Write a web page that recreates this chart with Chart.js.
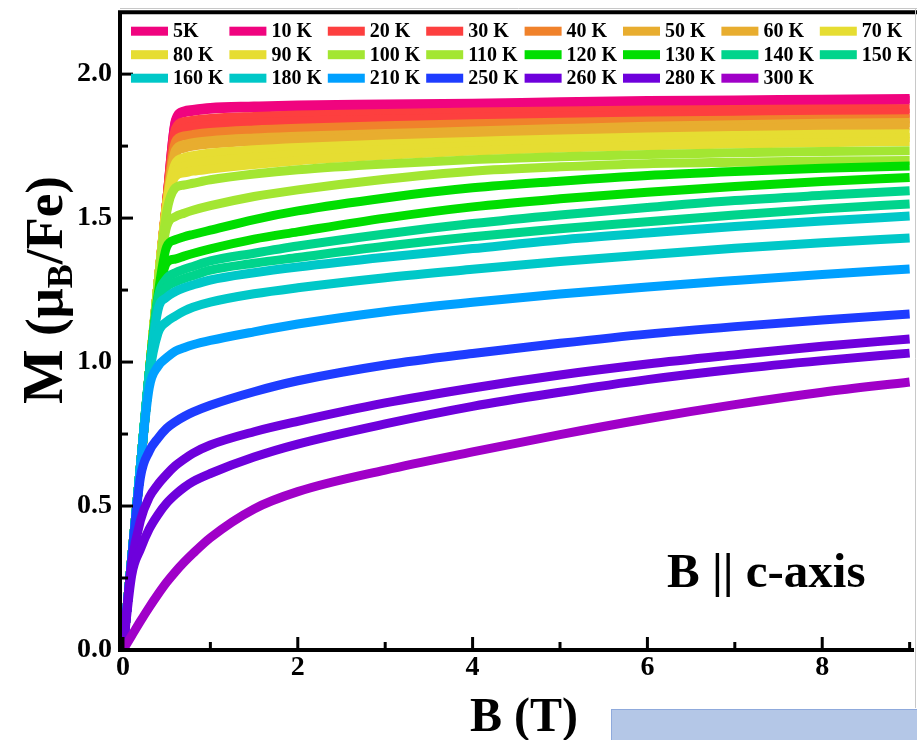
<!DOCTYPE html>
<html>
<head>
<meta charset="utf-8">
<script src="https://cdn.jsdelivr.net/npm/chart.js@4.4.1/dist/chart.umd.min.js"></script>
<style>
  html, body { margin: 0; padding: 0; background: #fff; }
  #wrap { position: relative; width: 917px; height: 740px; overflow: hidden; }
  #note { position: absolute; left: 611px; top: 709px; width: 310px; height: 40px;
          background: #b4c7e7; border: 1px solid #8faadc; box-sizing: border-box; }
</style>
</head>
<body>
<div id="wrap">
  <canvas id="mh" width="917" height="740"></canvas>
  <div id="note"></div>
</div>
<script>
// Applied field B (T) at which every isotherm is sampled
const fieldTesla = [0, 0.1, 0.2, 0.3, 0.4, 0.5, 0.6, 0.7, 0.8, 1, 1.5, 2, 3, 4, 5, 6, 7, 8, 9];

const temperatureLabels = ['5K', '10 K', '20 K', '30 K', '40 K', '50 K', '60 K', '70 K',
                           '80 K', '90 K', '100 K', '110 K', '120 K', '130 K', '140 K', '150 K',
                           '160 K', '180 K', '210 K', '250 K', '260 K', '280 K', '300 K'];

// Magnetization M (muB/Fe) for each isotherm
const m5K   = [0, 0.32, 0.64, 0.96, 1.27, 1.56, 1.84, 1.872, 1.877, 1.884, 1.889, 1.893, 1.896, 1.899, 1.904, 1.908, 1.910, 1.913, 1.915];
const m10K  = [0, 0.32, 0.64, 0.96, 1.27, 1.56, 1.835, 1.866, 1.871, 1.878, 1.883, 1.887, 1.890, 1.893, 1.898, 1.902, 1.905, 1.907, 1.909];
const m20K  = [0, 0.32, 0.64, 0.96, 1.27, 1.56, 1.81, 1.835, 1.840, 1.846, 1.853, 1.858, 1.863, 1.868, 1.872, 1.875, 1.877, 1.879, 1.880];
const m30K  = [0, 0.32, 0.64, 0.96, 1.27, 1.56, 1.79, 1.812, 1.817, 1.823, 1.831, 1.837, 1.843, 1.849, 1.854, 1.858, 1.860, 1.862, 1.864];
const m40K  = [0, 0.32, 0.64, 0.96, 1.27, 1.56, 1.765, 1.785, 1.790, 1.797, 1.806, 1.812, 1.821, 1.828, 1.833, 1.837, 1.840, 1.843, 1.845];
const m50K  = [0, 0.32, 0.64, 0.96, 1.27, 1.55, 1.735, 1.755, 1.762, 1.769, 1.778, 1.784, 1.794, 1.802, 1.811, 1.819, 1.824, 1.829, 1.832];
const m60K  = [0, 0.32, 0.64, 0.96, 1.27, 1.55, 1.722, 1.743, 1.750, 1.757, 1.766, 1.772, 1.782, 1.790, 1.799, 1.807, 1.812, 1.817, 1.821];
const m70K  = [0, 0.32, 0.64, 0.96, 1.27, 1.55, 1.69, 1.71, 1.717, 1.726, 1.737, 1.745, 1.757, 1.766, 1.775, 1.782, 1.787, 1.791, 1.793];
const m80K  = [0, 0.32, 0.64, 0.96, 1.27, 1.54, 1.665, 1.68, 1.688, 1.698, 1.711, 1.722, 1.738, 1.750, 1.759, 1.766, 1.772, 1.777, 1.780];
const m90K  = [0, 0.32, 0.64, 0.96, 1.27, 1.53, 1.645, 1.657, 1.663, 1.670, 1.686, 1.699, 1.718, 1.733, 1.743, 1.751, 1.757, 1.762, 1.766];
const m100K = [0, 0.32, 0.64, 0.96, 1.27, 1.52, 1.605, 1.615, 1.621, 1.633, 1.653, 1.668, 1.688, 1.703, 1.713, 1.721, 1.727, 1.731, 1.734];
const m110K = [0, 0.32, 0.64, 0.96, 1.27, 1.47, 1.505, 1.517, 1.527, 1.543, 1.575, 1.598, 1.635, 1.663, 1.678, 1.689, 1.694, 1.698, 1.700];
const m120K = [0, 0.32, 0.64, 0.96, 1.23, 1.40, 1.425, 1.435, 1.443, 1.458, 1.495, 1.525, 1.570, 1.605, 1.628, 1.648, 1.662, 1.673, 1.681];
const m130K = [0, 0.32, 0.64, 0.96, 1.21, 1.345, 1.358, 1.368, 1.377, 1.393, 1.427, 1.452, 1.500, 1.539, 1.567, 1.590, 1.610, 1.627, 1.641];
const m140K = [0, 0.32, 0.64, 0.96, 1.22, 1.29, 1.31, 1.322, 1.332, 1.351, 1.378, 1.403, 1.445, 1.481, 1.511, 1.537, 1.561, 1.579, 1.595];
const m150K = [0, 0.32, 0.64, 0.96, 1.20, 1.26, 1.278, 1.29, 1.30, 1.319, 1.343, 1.363, 1.402, 1.435, 1.463, 1.487, 1.511, 1.532, 1.549];
const m160K = [0, 0.32, 0.64, 0.96, 1.18, 1.225, 1.245, 1.258, 1.268, 1.285, 1.310, 1.330, 1.364, 1.394, 1.424, 1.448, 1.471, 1.490, 1.507];
const m180K = [0, 0.32, 0.64, 0.95, 1.10, 1.14, 1.16, 1.177, 1.19, 1.208, 1.237, 1.258, 1.293, 1.322, 1.349, 1.373, 1.395, 1.414, 1.431];
const m210K = [0, 0.32, 0.64, 0.91, 0.985, 1.015, 1.038, 1.05, 1.06, 1.075, 1.105, 1.132, 1.175, 1.208, 1.236, 1.261, 1.283, 1.304, 1.323];
const m250K = [0, 0.32, 0.60, 0.69, 0.735, 0.77, 0.793, 0.811, 0.826, 0.850, 0.897, 0.935, 0.990, 1.030, 1.065, 1.097, 1.123, 1.146, 1.167];
const m260K = [0, 0.30, 0.45, 0.53, 0.575, 0.61, 0.64, 0.663, 0.683, 0.712, 0.758, 0.794, 0.858, 0.910, 0.955, 0.993, 1.025, 1.055, 1.080];
const m280K = [0, 0.26, 0.35, 0.42, 0.47, 0.51, 0.54, 0.565, 0.585, 0.613, 0.670, 0.715, 0.785, 0.846, 0.895, 0.939, 0.975, 1.005, 1.031];
const m300K = [0, 0.05, 0.10, 0.148, 0.193, 0.235, 0.272, 0.305, 0.335, 0.39, 0.49, 0.55, 0.625, 0.688, 0.748, 0.803, 0.852, 0.895, 0.931];

const magnetization = [m5K, m10K, m20K, m30K, m40K, m50K, m60K, m70K, m80K, m90K, m100K, m110K,
                       m120K, m130K, m140K, m150K, m160K, m180K, m210K, m250K, m260K, m280K, m300K];

const lineColors = ['#f0047f', '#f0047f', '#fd3f3f', '#fd3f3f', '#f0822b', '#e8ad2f', '#e8ad2f', '#e6dd32',
                    '#e6dd32', '#e6dd32', '#a3e632', '#a3e632', '#00de00', '#00de00', '#00d48c', '#00d48c',
                    '#00c8c8', '#00c8c8', '#00a0ff', '#1e3cff', '#6e00dc', '#6e00dc', '#a000c8'];

const xTickValues = [0, 2, 4, 6, 8];
const xMinorValues = [1, 3, 5, 7, 9];
const yTickValues = [0, 0.5, 1.0, 1.5, 2.0];
const yMinorValues = [0.25, 0.75, 1.25, 1.75];

const SERIF = '"Liberation Serif", "Times New Roman", serif';

const datasets = temperatureLabels.map((label, i) => ({
  label,
  data: fieldTesla.map((b, j) => ({ x: b, y: magnetization[i][j] })),
  borderColor: lineColors[i],
  backgroundColor: lineColors[i],
  borderWidth: 9,
  borderCapStyle: 'butt',
  borderJoinStyle: 'round',
  pointRadius: 0,
  cubicInterpolationMode: 'monotone',
  fill: false,
  order: temperatureLabels.length - i   // warmer isotherms are painted over colder ones
}));

// Axis lines, frame and inward tick marks
const frameAndTicks = {
  id: 'frameAndTicks',
  afterDatasetsDraw(chart) {
    const { ctx, chartArea: a, scales: { x, y } } = chart;
    ctx.save();
    ctx.strokeStyle = '#000';
    ctx.lineCap = 'butt';
    ctx.lineWidth = 3;
    xTickValues.forEach(v => { const px = x.getPixelForValue(v); ctx.beginPath(); ctx.moveTo(px, a.bottom); ctx.lineTo(px, a.bottom - 13); ctx.stroke(); });
    xMinorValues.forEach(v => { const px = x.getPixelForValue(v); ctx.beginPath(); ctx.moveTo(px, a.bottom); ctx.lineTo(px, a.bottom - 8); ctx.stroke(); });
    yTickValues.forEach(v => { const py = y.getPixelForValue(v); ctx.beginPath(); ctx.moveTo(a.left, py); ctx.lineTo(a.left + 13, py); ctx.stroke(); });
    yMinorValues.forEach(v => { const py = y.getPixelForValue(v); ctx.beginPath(); ctx.moveTo(a.left, py); ctx.lineTo(a.left + 8, py); ctx.stroke(); });
    ctx.lineWidth = 4;
    ctx.beginPath();
    ctx.moveTo(a.left, a.top); ctx.lineTo(a.left, a.bottom); ctx.lineTo(a.right, a.bottom);
    ctx.stroke();
    ctx.beginPath();
    ctx.moveTo(a.left - 2, a.top); ctx.lineTo(chart.width, a.top);
    ctx.stroke();
    ctx.lineWidth = 1;
    ctx.strokeStyle = '#c8c8c8';
    ctx.beginPath();
    ctx.moveTo(a.left, 8.5); ctx.lineTo(chart.width, 8.5);
    ctx.moveTo(chart.width - 1.5, 8.5); ctx.lineTo(chart.width - 1.5, 708);
    ctx.stroke();
    ctx.restore();
  }
};

// Three-row legend drawn inside the plot frame
const gridLegend = {
  id: 'gridLegend',
  afterDatasetsDraw(chart) {
    const { ctx, chartArea: a } = chart;
    ctx.save();
    ctx.font = 'bold 20px ' + SERIF;
    ctx.textBaseline = 'middle';
    ctx.textAlign = 'left';
    chart.data.datasets.forEach((ds, i) => {
      const col = i % 8, row = Math.floor(i / 8);
      const x0 = a.left + 11 + col * 98.4;
      const yc = a.top + 19 + row * 23.5;
      ctx.fillStyle = ds.borderColor;
      ctx.fillRect(x0, yc - 4.5, 37, 9);
      ctx.fillStyle = '#000';
      ctx.fillText(ds.label, x0 + 42, yc + 1);
    });
    ctx.restore();
  }
};

// Axis titles and the field-direction note
const titles = {
  id: 'titles',
  afterDraw(chart) {
    const { ctx } = chart;
    ctx.save();
    ctx.fillStyle = '#000';
    ctx.textBaseline = 'alphabetic';
    ctx.textAlign = 'center';
    ctx.font = 'bold 48px ' + SERIF;
    ctx.fillText('B (T)', 524, 731);

    ctx.textAlign = 'left';
    ctx.font = 'bold 49px ' + SERIF;
    ctx.fillText('B || c-axis', 667, 587);

    const parts = [
      { t: 'M', f: 'bold 58px ' + SERIF, dy: 0 },
      { t: ' (\u03bc', f: 'bold 53px ' + SERIF, dy: 0 },
      { t: 'B', f: 'bold 36px ' + SERIF, dy: 10 },
      { t: '/Fe)', f: 'bold 53px ' + SERIF, dy: 0 }
    ];
    let total = 0;
    parts.forEach(p => { ctx.font = p.f; p.w = ctx.measureText(p.t).width; total += p.w; });
    ctx.translate(62, 290);
    ctx.rotate(-Math.PI / 2);
    let cx = -total / 2;
    parts.forEach(p => { ctx.font = p.f; ctx.fillText(p.t, cx, p.dy); cx += p.w; });
    ctx.restore();
  }
};

new Chart(document.getElementById('mh'), {
  type: 'line',
  data: { datasets },
  options: {
    responsive: false,
    animation: false,
    devicePixelRatio: 1,
    layout: { padding: { top: 12, right: 3, left: 0, bottom: 0 } },
    plugins: { legend: { display: false }, tooltip: { enabled: false } },
    scales: {
      x: {
        type: 'linear',
        min: -0.034,
        max: 9.05,
        grid: { display: false, drawTicks: false },
        border: { display: false },
        afterBuildTicks: s => { s.ticks = xTickValues.map(v => ({ value: v })); },
        afterFit: s => { s.height = 90; },
        ticks: { color: '#000', padding: 1, font: { family: SERIF, size: 28, weight: 'bold' }, callback: v => String(v) }
      },
      y: {
        type: 'linear',
        min: 0,
        max: 2.215,
        grid: { display: false, drawTicks: false },
        border: { display: false },
        afterBuildTicks: s => { s.ticks = yTickValues.map(v => ({ value: v })); },
        afterFit: s => { s.width = 120; },
        ticks: { color: '#000', padding: 8, font: { family: SERIF, size: 28, weight: 'bold', lineHeight: 0.3 }, callback: v => Number(v).toFixed(1) }
      }
    }
  },
  plugins: [frameAndTicks, gridLegend, titles]
});
</script>
</body>
</html>
